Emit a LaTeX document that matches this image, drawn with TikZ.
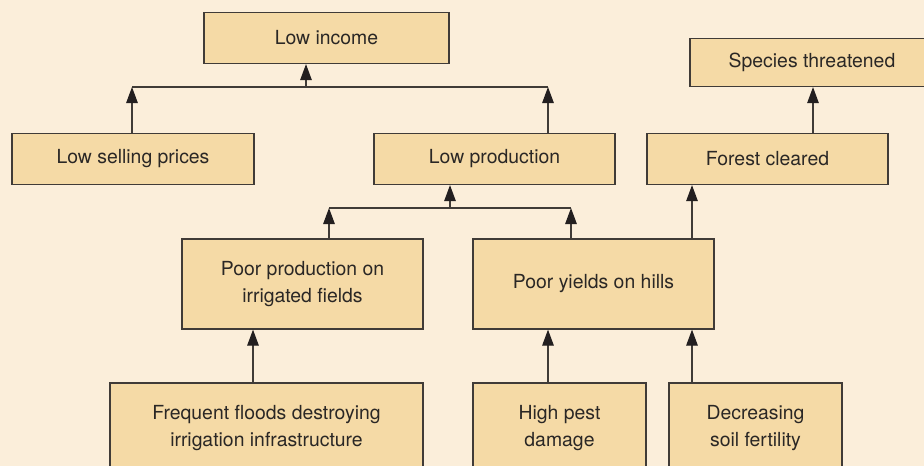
\documentclass[tikz,border=0pt]{standalone}
\usepackage{fontspec}
\setmainfont{TeX Gyre Heros}
\usetikzlibrary{arrows.meta}

\definecolor{bgcream}{HTML}{FBEEDA}
\definecolor{boxfill}{HTML}{F5DAA6}
\definecolor{edgegray}{HTML}{403B37}
\definecolor{tipblack}{HTML}{231F20}
\definecolor{textgray}{HTML}{2A2725}

\begin{document}
\begin{tikzpicture}[x=1pt, y=-1pt,
	causebox/.style={draw=edgegray, fill=boxfill, line width=1.2pt, inner sep=0pt, align=center,
		text=textgray, font=\fontsize{19.4}{27}\selectfont},
	link/.style={draw=edgegray, line width=1.2pt},
	arr/.style={link, -{Triangle[length=16pt,width=11.5pt,color=tipblack]}}]
	\useasboundingbox (0,0) rectangle (924,466);
	\fill[bgcream] (0,0) rectangle (924,466);
	\clip (0,0) rectangle (924,466);

	\node[causebox, minimum width=245pt, minimum height=51pt] (income) at (326.5,38) {Low income};
	\node[causebox, minimum width=244pt, minimum height=48pt] (species) at (812,62.5) {Species threatened};

	\node[causebox, minimum width=242pt, minimum height=51pt] (sell) at (133,159) {Low selling prices};
	\node[causebox, minimum width=241pt, minimum height=51pt] (lowprod) at (494.5,159) {Low production};
	\node[causebox, minimum width=241pt, minimum height=51pt] (forest) at (767.5,159) {Forest cleared};

	\node[causebox, minimum width=241pt, minimum height=90pt] (irrig) at (302.5,284) {Poor production on\\irrigated fields};
	\node[causebox, minimum width=241pt, minimum height=90pt] (hills) at (593.5,284) {Poor yields on hills};

	\node[causebox, minimum width=313pt, minimum height=90pt] (floods) at (266.5,428) {Frequent floods destroying\\irrigation infrastructure};
	\node[causebox, minimum width=173pt, minimum height=90pt] (pest) at (559.5,428) {High pest\\damage};
	\node[causebox, minimum width=173pt, minimum height=90pt] (soil) at (755.5,428) {Decreasing\\soil fertility};

	% joints of the two branching connectors
	\coordinate (incL) at (132,87); \coordinate (incM) at (306,87); \coordinate (incR) at (548,87);
	\coordinate (prodL) at (329,208); \coordinate (prodM) at (450,208); \coordinate (prodR) at (571,208);

	\draw[link] (incL) -- (incR);
	\draw[arr] (incM) -- (income.south -| incM);
	\draw[arr] (sell.north -| incL) -- (incL);
	\draw[arr] (lowprod.north -| incR) -- (incR);

	\draw[link] (prodL) -- (prodR);
	\draw[arr] (prodM) -- (lowprod.south -| prodM);
	\draw[arr] (irrig.north -| prodL) -- (prodL);
	\draw[arr] (hills.north -| prodR) -- (prodR);

	\draw[arr] (forest.north -| 813,0) -- (species.south -| 813,0);
	\draw[arr] (hills.north -| 692,0) -- (forest.south -| 692,0);

	\draw[arr] (floods.north -| 253,0) -- (irrig.south -| 253,0);
	\draw[arr] (pest.north -| 548,0) -- (hills.south -| 548,0);
	\draw[arr] (soil.north -| 692,0) -- (hills.south -| 692,0);
\end{tikzpicture}
\end{document}
